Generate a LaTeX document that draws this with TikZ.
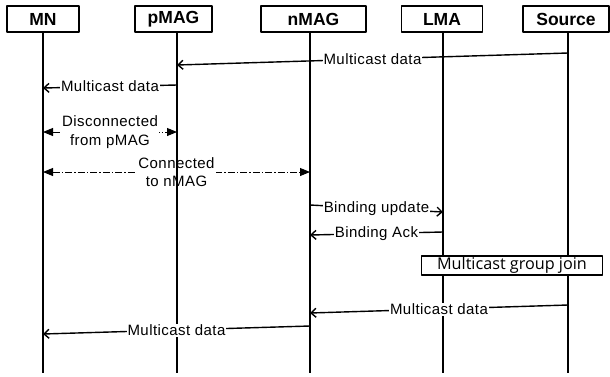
\documentclass[tikz,border=0pt]{standalone}
\usepackage{fontspec}
\setmainfont{Liberation Sans}
\newfontfamily\lblfont[LetterSpace=3]{Liberation Sans}
\newfontfamily\joinfont{Open Sans}
\usetikzlibrary{arrows.meta}

\begin{document}
\begin{tikzpicture}[x=1pt,y=-1pt,line join=round,
    actor/.style={draw,line width=1.5pt,minimum height=26pt,inner sep=0pt,font=\fontsize{17.5}{17.5}\selectfont\bfseries},
    life/.style={line width=1.8pt},
    msg/.style={line width=1.4pt,-{Straight Barb[length=5pt,width=9pt]}},
    lbl/.style={fill=white,inner sep=1pt,align=center,font=\fontsize{15}{18.5}\selectfont\lblfont},
    link/.style={line width=0.9pt,{Triangle[length=10pt,width=8pt]}-{Triangle[length=10pt,width=8pt]},dash pattern=on 7pt off 2pt on 1.5pt off 2pt}]
    \useasboundingbox(0,0)rectangle(610,376);
    % actors: name / lifeline x / box centre / box width
    \foreach \n/\x/\c/\w in{MN/43/43/72,pMAG/177/173.5/77,nMAG/310/313.5/105,LMA/443/442/81,Source/568/566/86}{
        \node[actor,minimum width=\w pt](\n)at(\c,19){\n};
        \coordinate(\n-end)at(\x,373);}
    % link changes (drawn under the lifelines)
    \path(MN-end|-0,132)coordinate(d1)(pMAG-end|-0,132)coordinate(d2)
        (MN-end|-0,172)coordinate(c1)(nMAG-end|-0,172)coordinate(c2);
    \draw[link](d1)--node[lbl]{Disconnected\\from pMAG}(d2);
    \draw[link](c1)--node[lbl]{Connected\\to nMAG}(c2);
    \foreach \n in{MN,pMAG,nMAG,LMA,Source}\draw[life](\n.south-|\n-end)--(\n-end);
    % messages: from / y / to / y / text
    \foreach \a/\ya/\b/\yb/\t [count=\i] in{Source/53/pMAG/65/Multicast data,pMAG/85/MN/88/Multicast data,
        nMAG/205/LMA/212/Binding update,LMA/232/nMAG/235/Binding Ack,
        Source/305/nMAG/313/Multicast data,nMAG/326/MN/334/Multicast data}{
        \path(\a-end|-0,\ya)coordinate(m\i-s)(\b-end|-0,\yb)coordinate(m\i-e);
        \draw[msg](m\i-s)--node[lbl]{\t}(m\i-e);}
    \node[draw,fill=white,line width=1.3pt,minimum width=181pt,minimum height=19pt,inner sep=0pt,font=\fontsize{16.2}{16.2}\selectfont\joinfont](join)at(512,265.5){Multicast group join};
\end{tikzpicture}
\end{document}
